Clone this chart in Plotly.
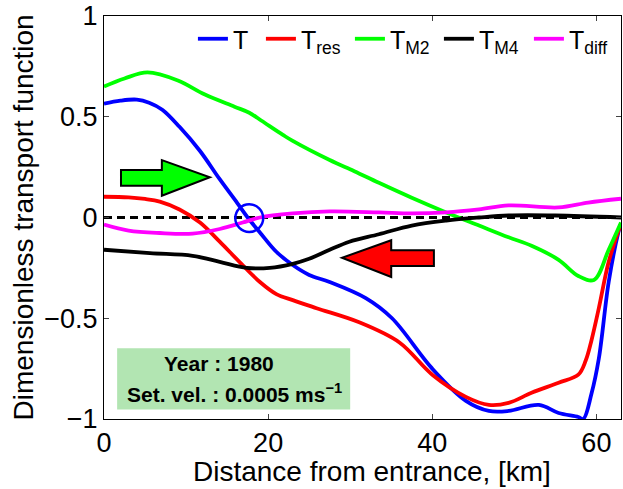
import plotly.graph_objects as go

# ---- data ----
x_T = [0, 2, 4, 5.5, 7.1, 9.2, 11.7, 14.1, 16.2, 17.7, 19, 21, 23, 25, 27.5, 31.9, 35.1,
       40, 44.1, 46.9, 49.3, 53, 55.4, 57.8, 58.4, 59.4, 60.3, 61.5, 62.7, 63]
y_T = [0.565, 0.58, 0.585, 0.57, 0.535, 0.45, 0.33, 0.19, 0.074, -0.01, -0.074, -0.17,
       -0.236, -0.285, -0.32, -0.40, -0.50, -0.75, -0.91, -0.96, -0.96, -0.93, -0.97, -0.99,
       -1.0, -0.875, -0.70, -0.32, -0.07, -0.03]

x_res = [0, 3, 5, 6.8, 9.2, 11.7, 14.1, 16.5, 19, 21, 23, 25.9, 31.1, 36, 40, 44.1, 46.9,
         49.3, 52.1, 55.4, 57.8, 58.7, 59.4, 60.3, 61.5, 63]
y_res = [0.103, 0.10, 0.092, 0.079, 0.04, -0.025, -0.12, -0.22, -0.32, -0.38, -0.41, -0.45,
         -0.52, -0.62, -0.78, -0.89, -0.93, -0.92, -0.87, -0.82, -0.78, -0.71, -0.61, -0.45,
         -0.22, -0.03]

x_M2 = [0, 2.5, 5.3, 9, 12.3, 15.9, 17.7, 19.2, 21.8, 23, 27.5, 30.5, 33.5, 37.5, 41.7,
        45.7, 49.3, 52.1, 55.4, 57.8, 59.7, 61.5, 63]
y_M2 = [0.65, 0.69, 0.72, 0.68, 0.61, 0.55, 0.52, 0.48, 0.41, 0.38, 0.285, 0.23, 0.172,
        0.098, 0.025, -0.04, -0.098, -0.14, -0.21, -0.29, -0.31, -0.16, -0.025]

x_M4 = [0, 5.6, 10.8, 14.1, 17.4, 20.2, 23, 25, 27.5, 29.9, 33.5, 37.5, 41.7, 45.7, 49.3,
        55, 63]
y_M4 = [-0.16, -0.177, -0.19, -0.22, -0.25, -0.25, -0.23, -0.205, -0.16, -0.12, -0.083,
        -0.04, -0.015, 0.0, 0.01, 0.01, 0.0]

x_diff = [0, 3, 6.8, 10.8, 14.1, 16.9, 19, 23, 27.5, 33.5, 37.5, 41.7, 45.7, 49.3, 55.4,
          59, 63]
y_diff = [-0.035, -0.065, -0.077, -0.08, -0.057, -0.025, 0.0, 0.02, 0.03, 0.025, 0.02,
          0.025, 0.04, 0.06, 0.05, 0.074, 0.093]

x_zero = [0, 63]
y_zero = [0, 0]

x_ticks = [0, 20, 40, 60]
y_ticks = [-1, -0.5, 0, 0.5, 1]
y_ticklabels = ["\u22121", "\u22120.5", "0", "0.5", "1"]

series_names = ["T", "T<sub>res</sub>", "T<sub>M2</sub>", "T<sub>M4</sub>", "T<sub>diff</sub>"]
series_colors = ["#0000ff", "#ff0000", "#00ff00", "#000000", "#ff00ff"]
legend_text_widths = [23, 44, 44, 45, 45]

# arrows / marker circle (data coordinates)
green_arrow = [(2.07, 0.157), (2.07, 0.236), (7.05, 0.236), (7.05, 0.285), (12.9, 0.20),
               (7.05, 0.108), (7.05, 0.157)]
red_arrow = [(40.2, -0.162), (40.2, -0.241), (35.0, -0.241), (35.0, -0.295), (29.0, -0.20),
             (35.0, -0.113), (35.0, -0.162)]
circle_center = (17.7, -0.003)
circle_r = (1.7, 0.069)
box = (1.6, 30.0, -0.953, -0.649)

FONT = "Liberation Sans, Arial, sans-serif"

fig = go.Figure()
fig.add_trace(go.Scatter(x=x_zero, y=y_zero, mode="lines", showlegend=False,
                         line=dict(color="black", width=3, dash="8px,5px")))
for xs, ys, nm, col, lw in zip([x_T, x_res, x_M2, x_M4, x_diff],
                               [y_T, y_res, y_M2, y_M4, y_diff], series_names,
                               series_colors, legend_text_widths):
    fig.add_trace(go.Scatter(x=xs, y=ys, mode="lines", name=nm, legendwidth=lw,
                             line=dict(color=col, width=3.8, shape="spline", smoothing=1.0)))


def poly_path(pts):
    return "M " + " L ".join(f"{a},{b}" for a, b in pts) + " Z"


shapes = [
    dict(type="path", path=poly_path(green_arrow), xref="x", yref="y",
         fillcolor="#00ff00", line=dict(color="black", width=2)),
    dict(type="path", path=poly_path(red_arrow), xref="x", yref="y",
         fillcolor="#ff0000", line=dict(color="black", width=2)),
    dict(type="circle", xref="x", yref="y",
         x0=circle_center[0] - circle_r[0], x1=circle_center[0] + circle_r[0],
         y0=circle_center[1] - circle_r[1], y1=circle_center[1] + circle_r[1],
         line=dict(color="#0000ff", width=2.5)),
    dict(type="rect", xref="x", yref="y", x0=box[0], x1=box[1], y0=box[2], y1=box[3],
         fillcolor="#b2e5b2", line=dict(width=0), layer="above"),
]

annotations = [
    dict(text="<b>Year : 1980</b>", x=14.0, y=-0.725, xref="x", yref="y", showarrow=False,
         font=dict(family=FONT, size=21, color="black")),
    dict(text="<b>Set. vel. : 0.0005 ms<sup>\u22121</sup></b>", x=15.9, y=-0.87, xref="x",
         yref="y", showarrow=False, font=dict(family=FONT, size=21, color="black")),
    dict(text="Dimensionless transport function", textangle=-90, xref="paper", yref="paper",
         x=0, xanchor="center", xshift=-81, y=0.5, yanchor="middle", showarrow=False,
         font=dict(family=FONT, size=28, color="black")),
    dict(text="Distance from entrance, [km]", xref="paper", yref="paper", x=0.5, xshift=9,
         xanchor="center", y=0, yanchor="middle", yshift=-52, showarrow=False,
         font=dict(family=FONT, size=28, color="black")),
]

fig.update_layout(
    width=623, height=489,
    margin=dict(l=104, r=1, t=12, b=70),
    paper_bgcolor="white", plot_bgcolor="white",
    font=dict(family=FONT, size=27, color="black"),
    shapes=shapes, annotations=annotations,
    legend=dict(orientation="h", x=0.172, xanchor="left", y=1, yanchor="top",
                bgcolor="rgba(0,0,0,0)", font=dict(family=FONT, size=25),
                itemwidth=30, tracegroupgap=0),
)
fig.update_xaxes(range=[0, 63], tickvals=x_ticks, ticks="inside", ticklen=5,
                 showline=True, linecolor="black", linewidth=1, mirror="ticks",
                 showgrid=False, zeroline=False, tickfont=dict(size=27),
                 ticklabeloverflow="allow")
fig.update_yaxes(range=[-1, 1], tickvals=y_ticks, ticktext=y_ticklabels, ticks="inside",
                 ticklen=5, showline=True, linecolor="black", linewidth=1, mirror="ticks",
                 showgrid=False, zeroline=False, tickfont=dict(size=27),
                 ticklabeloverflow="allow")

fig.write_html("out.html")
